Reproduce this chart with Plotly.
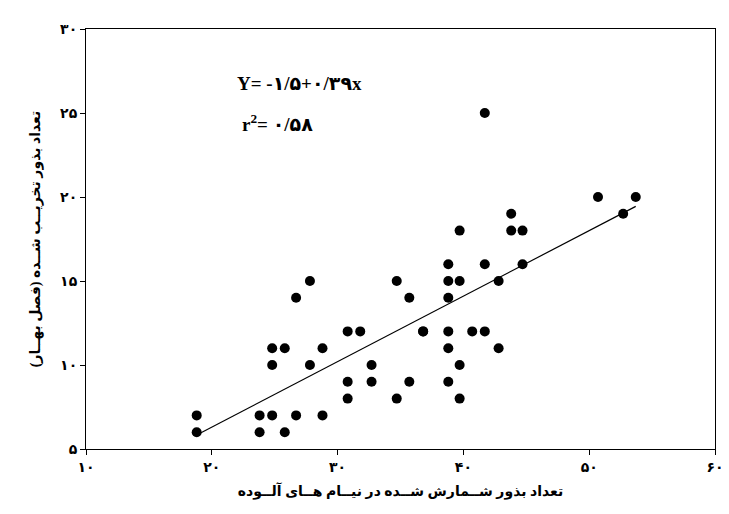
import numpy as np
import plotly.graph_objects as go

# seed counts in clusters (x) vs damaged seeds, spring (y)
seeds_x = [18.8, 18.8, 23.8, 23.8, 24.8, 25.8, 24.8, 24.8, 25.8, 26.7, 26.7, 27.8, 27.8,
           28.8, 28.8, 30.8, 31.8, 30.8, 30.8, 32.7, 32.7, 34.7, 35.7, 35.7, 36.8,
           38.8, 38.8, 38.8, 38.8, 38.8, 38.8, 39.7, 39.7, 39.7, 39.7, 40.7, 41.7, 41.7,
           41.7, 42.8, 42.8, 43.8, 43.8, 44.7, 44.7, 50.7, 52.7, 53.7, 34.7, 36.8]
damaged_y = [7, 6, 7, 6, 7, 6, 10, 11, 11, 7, 14, 15, 10,
             7, 11, 12, 12, 9, 8, 10, 9, 15, 14, 9, 12,
             16, 15, 14, 12, 11, 9, 18, 15, 10, 8, 12, 25, 16,
             12, 15, 11, 19, 18, 18, 16, 20, 19, 20, 8, 12]

intercept, slope = -1.5, 0.39
line_x = [18.8, 53.7]

x_ticks = [10, 20, 30, 40, 50, 60]
x_labels = ['۱۰', '۲۰', '۳۰', '۴۰', '۵۰', '۶۰']
y_ticks = [5, 10, 15, 20, 25, 30]
y_labels = ['۵', '۱۰', '۱۵', '۲۰', '۲۵', '۳۰']

fnt = 'Liberation Serif, DejaVu Sans'

fig = go.Figure()
fig.add_trace(go.Scatter(x=seeds_x, y=damaged_y, mode='markers',
                         marker=dict(color='black', size=10), showlegend=False))
fig.add_trace(go.Scatter(x=line_x, y=[intercept + slope * v for v in line_x], mode='lines',
                         line=dict(color='black', width=1.2), showlegend=False))

fig.add_annotation(x=0.34, y=0.9, xref='paper', yref='paper', xanchor='center', showarrow=False,
                   text='<b>Y= -۱/۵+۰/۳۹x</b>', font=dict(family=fnt, size=19, color='black'))
fig.add_annotation(x=0.245, y=0.81, xref='paper', yref='paper', xanchor='left', showarrow=False,
                   text='<b>r<sup>2</sup>= ۰/۵۸</b>', font=dict(family=fnt, size=19, color='black'))

axis_style = dict(showgrid=False, zeroline=False, showline=True, linecolor='black', linewidth=1,
                  mirror=True, ticks='outside', ticklen=5, tickcolor='black', automargin=False,
                  tickfont=dict(family=fnt, size=14, color='black'))
fig.update_xaxes(range=[10, 60], tickvals=x_ticks, ticktext=['<b>%s</b>' % t for t in x_labels],
                 title=dict(text='<b>تعداد بذور شــمارش شــده در نیــام هــای آلــوده</b>',
                            font=dict(family=fnt, size=14, color='black'), standoff=12),
                 **axis_style)
fig.update_yaxes(range=[5, 30], tickvals=y_ticks, ticktext=['<b>%s</b>' % t for t in y_labels],
                 title=dict(text='<b>تعداد بذور تخریــب شــده (فصل بهــار)</b>',
                            font=dict(family=fnt, size=14, color='black'), standoff=16),
                 **axis_style)
fig.update_layout(width=729, height=514, plot_bgcolor='white', paper_bgcolor='white',
                  margin=dict(l=78, r=22, t=21, b=73))
fig.write_html("out.html")
